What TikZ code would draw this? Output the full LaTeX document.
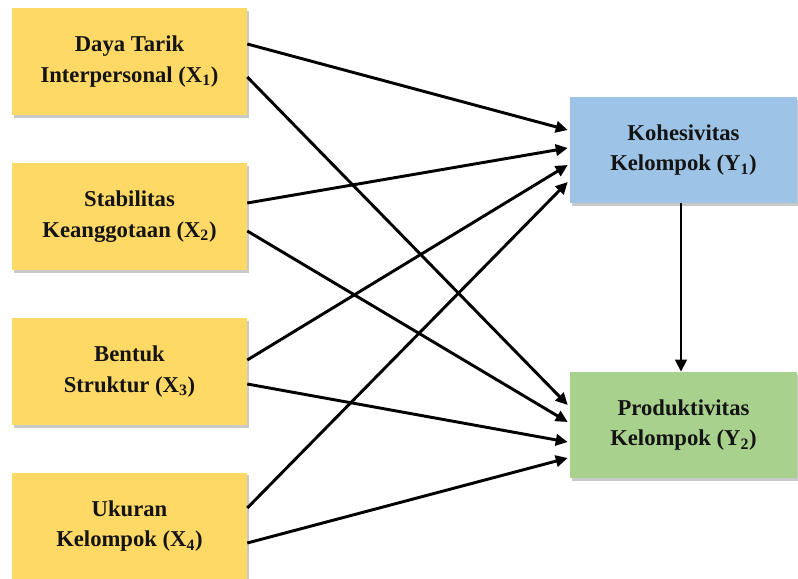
\documentclass[tikz,border=0pt]{standalone}
\usepackage{fontspec}
\setmainfont{Liberation Serif}
\usetikzlibrary{arrows.meta,calc,shadows}
\definecolor{xfill}{HTML}{FFD966}
\definecolor{yonefill}{HTML}{9DC3E6}
\definecolor{ytwofill}{HTML}{A9D18E}
\definecolor{inktext}{HTML}{141414}
\tikzset{
  varbox/.style={rectangle, draw=none, align=center, inner sep=0pt,
    font=\fontsize{17}{23}\selectfont\bfseries, text=inktext,
    drop shadow={shadow xshift=1.6pt, shadow yshift=-2pt, opacity=0.35, fill=black!60}},
  xbox/.style={varbox, fill=xfill, minimum width=176.25pt, minimum height=80.25pt},
  ybox/.style={varbox, minimum width=170.25pt, minimum height=79.5pt},
  link/.style={line width=2.2pt, -{Triangle[length=9pt,width=8.5pt]}}
}
\begin{document}
\begin{tikzpicture}[x=0.75pt, y=-0.75pt]
\useasboundingbox (0,0) rectangle (798,578);
\fill[white] (0,0) rectangle (798,578);

% independent variables
\node[xbox] (X1) at (129.5,61.5)  {Daya Tarik\\Interpersonal (X\textsubscript{1})};
\node[xbox] (X2) at (129.5,216.5) {Stabilitas\\Keanggotaan (X\textsubscript{2})};
\node[xbox] (X3) at (129.5,371.5) {Bentuk\\Struktur (X\textsubscript{3})};
\node[xbox] (X4) at (129.5,526)   {Ukuran\\Kelompok (X\textsubscript{4})};

% dependent variables
\node[ybox, fill=yonefill] (Y1) at (683.5,150) {Kohesivitas\\Kelompok (Y\textsubscript{1})};
\node[ybox, fill=ytwofill] (Y2) at (683.5,425) {Produktivitas\\Kelompok (Y\textsubscript{2})};

% paths into Y1
\draw[link] ($(X1.east)+(0,-17.5)$) -- ($(Y1.west)+(-2,-20)$);
\draw[link] ($(X2.east)+(0,-13.5)$) -- ($(Y1.west)+(-2,-2)$);
\draw[link] ($(X3.east)+(0,-11.5)$) -- ($(Y1.west)+(-2,15)$);
\draw[link] ($(X4.east)+(0,-18)$)   -- ($(Y1.west)+(-2,32)$);

% paths into Y2
\draw[link] ($(X1.east)+(0,15.5)$) -- ($(Y2.west)+(-2,-20)$);
\draw[link] ($(X2.east)+(0,14.5)$) -- ($(Y2.west)+(-2,-3)$);
\draw[link] ($(X3.east)+(0,12.5)$) -- ($(Y2.west)+(-2,17)$);
\draw[link] ($(X4.east)+(0,17)$)   -- ($(Y2.west)+(-2,33)$);

% Y1 to Y2
\draw[link] ($(Y1.south)+(-2.5,0)$) -- ($(Y2.north)+(-2.5,0)$);
\end{tikzpicture}
\end{document}
